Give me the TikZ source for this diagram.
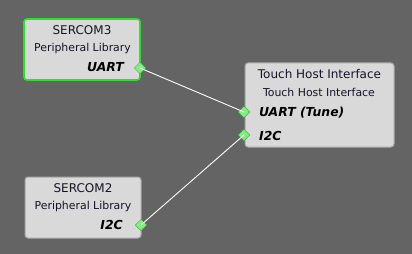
\documentclass[tikz,border=0pt]{standalone}
\usepackage{fontspec}
\setmainfont{DejaVu Sans}
\usetikzlibrary{shapes.geometric}
\definecolor{bg}{HTML}{646464}
\definecolor{boxfill}{HTML}{D9D9D9}
\definecolor{boxline}{HTML}{A8A8A8}
\definecolor{selgreen}{HTML}{2EE02E}
\definecolor{portfill}{HTML}{7FF07F}
\definecolor{portline}{HTML}{3FAF3F}
\definecolor{txt}{HTML}{141428}
\tikzset{
  block/.style={draw=boxline, line width=1pt, fill=boxfill, rounded corners=3pt, inner sep=0pt, rectangle},
  selblock/.style={block, draw=selgreen, line width=1.6pt},
  ttl/.style={anchor=base, inner sep=0pt, text=txt, font=\fontsize{12}{14}\selectfont},
  sub/.style={anchor=base, inner sep=0pt, text=txt, font=\fontsize{10.9}{13}\selectfont},
  lbl/.style={inner sep=0pt, text=black, font=\fontsize{12.4}{14}\selectfont\bfseries\itshape},
  port/.style={diamond, draw=portline, line width=0.5pt, fill=portfill, minimum size=11.5pt, inner sep=0pt},
  wire/.style={draw=white, line width=0.9pt}
}
\begin{document}
\begin{tikzpicture}[x=1pt,y=-1pt]
\useasboundingbox[fill=bg] (0,0) rectangle (412,254);
% blocks
\node[selblock, minimum width=116pt, minimum height=61pt] (s3) at (82,49.5) {};
\node[block, minimum width=116pt, minimum height=61pt] (s2) at (83,207.5) {};
\node[block, minimum width=149pt, minimum height=84pt] (th) at (319.5,105) {};
% texts
\node[ttl] (s3t) at (82,34.3) {SERCOM3};
\node[sub] (s3s) at (82.5,51.7) {Peripheral Library};
\node[lbl, anchor=base east] (s3u) at (124,71.7) {UART};
\node[ttl] (s2t) at (83,192) {SERCOM2};
\node[sub] (s2s) at (83,209.7) {Peripheral Library};
\node[lbl, anchor=base east] (s2i) at (123,229) {I2C};
\node[ttl] (tht) at (319.5,78) {Touch Host Interface};
\node[sub] (ths) at (319,96) {Touch Host Interface};
\node[lbl, anchor=base west] (thu) at (259,116) {UART (Tune)};
\node[lbl, anchor=base west] (thi) at (259,140) {I2C};
% ports
\node[port] (p3) at (140,68) {};
\node[port] (p2) at (141,225) {};
\node[port] (pu) at (244,112) {};
\node[port] (pi) at (244,135) {};
% wires
\draw[wire] (p3.center) -- (pu.center);
\draw[wire] (p2.center) -- (pi.center);
\end{tikzpicture}
\end{document}
